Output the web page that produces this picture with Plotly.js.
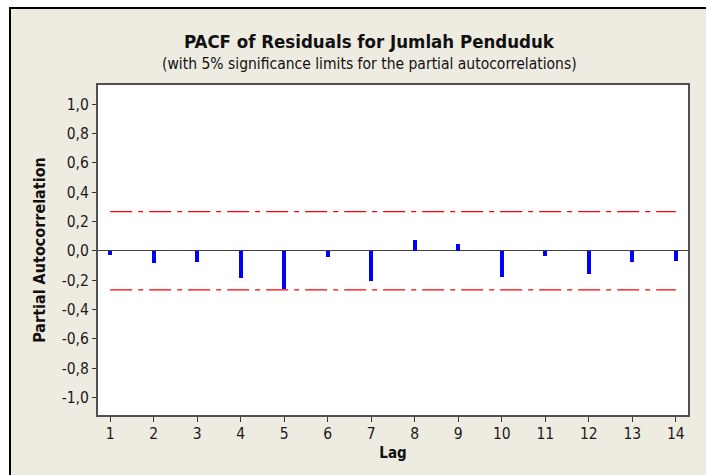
<!DOCTYPE html>
<html>
<head>
<meta charset="utf-8">
<script src="https://cdn.plot.ly/plotly-3.0.1.min.js"></script>
<style>
  html, body { margin: 0; padding: 0; background: #ffffff; overflow: hidden; }
  #wrap { position: absolute; left: 9px; top: 7px; width: 697px; height: 468px;
          border-left: 2px solid #000; border-top: 2px solid #000; background: #EEEBE1; }
  #chart { width: 697px; height: 468px; }
</style>
</head>
<body>
<div id="wrap"><div id="chart"></div></div>
<script>
// Data
const lags = [1, 2, 3, 4, 5, 6, 7, 8, 9, 10, 11, 12, 13, 14];
const pacf = [-0.030, -0.085, -0.076, -0.184, -0.262, -0.042, -0.209, 0.076, 0.044, -0.178, -0.035, -0.161, -0.076, -0.069];
const limitLags = [1, 14];
const upperLimit = [0.267, 0.267];
const lowerLimit = [-0.267, -0.267];
const yTickVals = [-1.0, -0.8, -0.6, -0.4, -0.2, 0.0, 0.2, 0.4, 0.6, 0.8, 1.0];
const yTickText = ['-1,0', '-0,8', '-0,6', '-0,4', '-0,2', '0,0', '0,2', '0,4', '0,6', '0,8', '1,0'];
const xTickText = ['1', '2', '3', '4', '5', '6', '7', '8', '9', '10', '11', '12', '13', '14'];

const titleText = 'PACF of Residuals for Jumlah Penduduk';
const subtitleText = '(with 5% significance limits for the partial autocorrelations)';

const FONT = 'DejaVu Sans Condensed, DejaVu Sans, sans-serif';

const traces = [
  {
    type: 'bar', x: lags, y: pacf, width: 0.085,
    marker: { color: '#0000FF', line: { width: 0 } },
    hoverinfo: 'x+y', showlegend: false
  },
  {
    type: 'scatter', mode: 'lines', x: limitLags, y: upperLimit,
    line: { color: '#FF0000', width: 1.3, dash: '22px,6px,5px,6px' },
    showlegend: false
  },
  {
    type: 'scatter', mode: 'lines', x: limitLags, y: lowerLimit,
    line: { color: '#FF0000', width: 1.3, dash: '22px,6px,5px,6px' },
    showlegend: false
  }
];

const layout = {
  width: 697, height: 468,
  margin: { l: 87, r: 20, t: 76, b: 62, pad: 0 },
  paper_bgcolor: '#EEEBE1',
  plot_bgcolor: '#FFFFFF',
  font: { family: FONT, color: '#1a1a1a', size: 15 },
  showlegend: false,
  bargap: 0,
  xaxis: {
    range: [0.72, 14.28],
    tickvals: lags, ticktext: xTickText,
    ticks: 'outside', ticklen: 5, tickwidth: 1, tickcolor: '#333',
    ticklabelstandoff: -2,
    showgrid: false, zeroline: false,
    showline: true, mirror: true, linecolor: '#505050', linewidth: 2,
    tickfont: { family: FONT, size: 15.5, color: '#1a1a1a' },
    title: { text: '<b>Lag</b>', font: { family: FONT, size: 15, color: '#111' }, standoff: 6 }
  },
  yaxis: {
    range: [-1.12, 1.13],
    tickvals: yTickVals, ticktext: yTickText,
    ticks: 'outside', ticklen: 4, tickwidth: 1, tickcolor: '#333',
    showgrid: false,
    zeroline: true, zerolinecolor: '#404040', zerolinewidth: 1.5,
    showline: true, mirror: true, linecolor: '#505050', linewidth: 2,
    tickfont: { family: FONT, size: 15.5, color: '#1a1a1a' },
    title: { text: '<b>Partial Autocorrelation</b>', font: { family: FONT, size: 16, color: '#111' }, standoff: 12 }
  },
  annotations: [
    { text: '<b>' + titleText + '</b>', xref: 'paper', yref: 'paper', x: 0.46, y: 1, yshift: 44,
      xanchor: 'center', yanchor: 'middle', showarrow: false,
      font: { family: FONT, size: 18.5, color: '#111' } },
    { text: subtitleText, xref: 'paper', yref: 'paper', x: 0.46, y: 1, yshift: 21,
      xanchor: 'center', yanchor: 'middle', showarrow: false,
      font: { family: FONT, size: 15.5, color: '#111' } }
  ]
};

Plotly.newPlot('chart', traces, layout, { displayModeBar: false, staticPlot: true });
</script>
</body>
</html>
